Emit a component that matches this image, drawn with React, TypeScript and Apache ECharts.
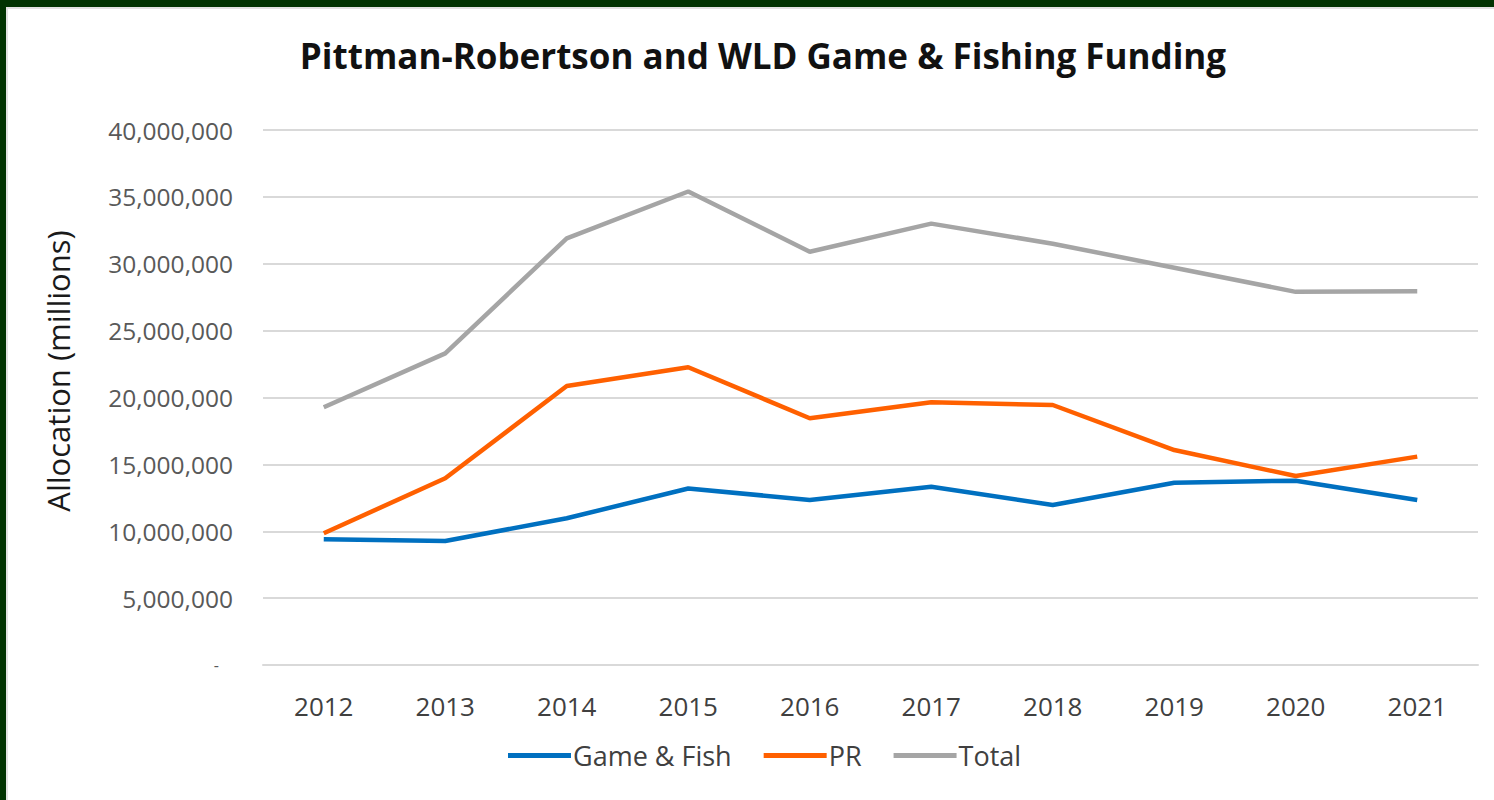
import React, { useEffect, useRef } from "react";
import * as echarts from "echarts";

const years = ["2012", "2013", "2014", "2015", "2016", "2017", "2018", "2019", "2020", "2021"];
const gameFish = [9400000, 9270000, 10970000, 13200000, 12340000, 13330000, 11960000, 13630000, 13780000, 12340000];
const pr = [9850000, 13960000, 20860000, 22260000, 18450000, 19640000, 19440000, 16070000, 14130000, 15580000];
const total = [19270000, 23300000, 31900000, 35400000, 30900000, 33000000, 31500000, 29700000, 27900000, 27950000];

const FONT = "'Open Sans', sans-serif";

export default function App() {
  const ref = useRef<HTMLDivElement>(null);
  useEffect(() => {
    document.body.style.margin = "0";
    const chart = echarts.init(ref.current!, null, { renderer: "svg" });
    const lineSeries = (name: string, data: number[], color: string) => ({
      name,
      type: "line",
      data,
      symbol: "none",
      lineStyle: { color, width: 4.5 },
      itemStyle: { color },
    });
    chart.setOption({
      animation: false,
      backgroundColor: "#ffffff",
      textStyle: { fontFamily: FONT },
      graphic: [
        { type: "rect", shape: { x: 0, y: 0, width: 1494, height: 7 }, style: { fill: "#013301" } },
        { type: "rect", shape: { x: 0, y: 0, width: 6, height: 800 }, style: { fill: "#013301" } },
        { type: "rect", shape: { x: 6, y: 7, width: 1488, height: 2 }, style: { fill: "#e2e2e2" } },
        { type: "rect", shape: { x: 6, y: 7, width: 2, height: 793 }, style: { fill: "#e2e2e2" } },
        {
          type: "text",
          x: 58,
          y: 371,
          rotation: Math.PI / 2,
          style: {
            text: "Allocation (millions)",
            fontFamily: FONT,
            fontSize: 31,
            fill: "#1a1a1a",
            align: "center",
            verticalAlign: "middle",
          },
        },
      ],
      title: {
        text: "Pittman-Robertson and WLD Game & Fishing Funding",
        left: 758,
        textAlign: "center",
        top: 33,
        textStyle: { fontFamily: FONT, fontSize: 35, fontWeight: "bold", color: "#111111" },
      },
      legend: {
        bottom: 26,
        left: 503,
        icon: "rect",
        itemWidth: 63,
        itemHeight: 5,
        itemGap: 32,
        textStyle: { fontFamily: FONT, fontSize: 27, color: "#404040", padding: [0, 0, 0, -3] },
        data: ["Game & Fish", "PR", "Total"],
      },
      grid: { left: 263, right: 16, top: 130, bottom: 135 },
      xAxis: {
        type: "category",
        data: years,
        boundaryGap: true,
        axisLine: { lineStyle: { color: "#d9d9d9", width: 2 } },
        axisTick: { show: false },
        axisLabel: { color: "#404040", fontSize: 26, margin: 28, fontFamily: FONT },
      },
      yAxis: {
        type: "value",
        min: 0,
        max: 40000000,
        interval: 5000000,
        axisLine: { show: false },
        axisTick: { show: false },
        splitLine: { lineStyle: { color: "#d9d9d9", width: 2 } },
        axisLabel: {
          color: "#595959",
          fontSize: 24.5,
          margin: 30,
          fontFamily: FONT,
          formatter: (v: number) => (v === 0 ? "{d|-}" : v.toLocaleString("en-US")),
          rich: { d: { fontSize: 16, color: "#595959", padding: [0, 14, 0, 0] } },
        },
      },
      series: [
        lineSeries("Game & Fish", gameFish, "#0070C0"),
        lineSeries("PR", pr, "#FF6000"),
        lineSeries("Total", total, "#A5A5A5"),
      ],
    });
    return () => chart.dispose();
  }, []);
  return <div ref={ref} style={{ width: 1494, height: 800 }} />;
}
